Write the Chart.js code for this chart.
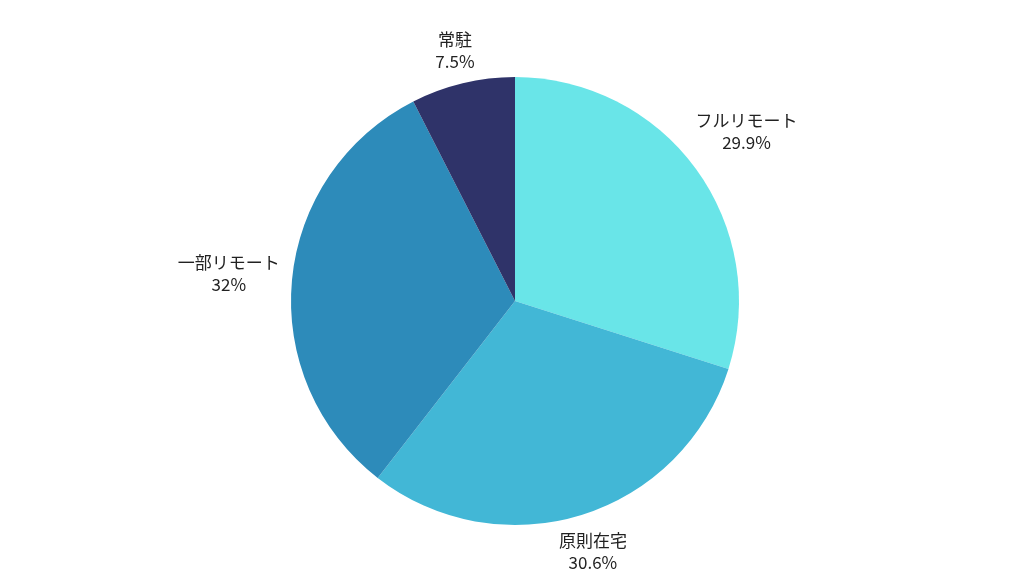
<!DOCTYPE html>
<html>
<head>
<meta charset="utf-8">
<script src="https://cdn.jsdelivr.net/npm/chart.js@4"></script>
<style>
html,body{margin:0;padding:0;background:#fff;}
#wrap{width:1024px;height:576px;position:relative;}
</style>
</head>
<body>
<div id="wrap"><canvas id="c"></canvas></div>
<script>
const categories = ['フルリモート', '原則在宅', '一部リモート', '常駐'];
const values = [29.9, 30.6, 32, 7.5];
const valueLabels = ['29.9%', '30.6%', '32%', '7.5%'];
const colors = ['#69e5e8', '#42b7d6', '#2d8bba', '#2f3369'];

const outLabels = {
  id: 'outLabels',
  afterDatasetsDraw(chart) {
    const ctx = chart.ctx;
    const meta = chart.getDatasetMeta(0);
    ctx.save();
    ctx.font = '17px "Noto Sans CJK JP", "Noto Sans", sans-serif';
    ctx.fillStyle = '#222';
    ctx.textAlign = 'center';
    ctx.textBaseline = 'middle';
    meta.data.forEach((arc, i) => {
      const p = arc.getProps(['x','y','startAngle','endAngle','outerRadius'], true);
      const mid = (p.startAngle + p.endAngle) / 2;
      const vx = Math.cos(mid), vy = Math.sin(mid);
      const lines = [categories[i], valueLabels[i]];
      const w = Math.max(...lines.map(l => ctx.measureText(l).width));
      const h = 36;
      const R = p.outerRadius + 11 + Math.abs(vx) * w / 2 + Math.abs(vy) * h / 2;
      const cx = p.x + vx * R, cy = p.y + vy * R;
      ctx.fillText(lines[0], cx, cy - 11);
      ctx.fillText(lines[1], cx, cy + 11);
    });
    ctx.restore();
  }
};

new Chart(document.getElementById('c'), {
  type: 'pie',
  data: {
    labels: categories,
    datasets: [{
      data: values,
      backgroundColor: colors,
      borderWidth: 0
    }]
  },
  options: {
    responsive: true,
    maintainAspectRatio: false,
    animation: false,
    layout: { padding: { top: 77, bottom: 51, left: 6, right: 0 } },
    plugins: {
      legend: { display: false },
      tooltip: { enabled: false }
    }
  },
  plugins: [outLabels]
});
</script>
</body>
</html>
